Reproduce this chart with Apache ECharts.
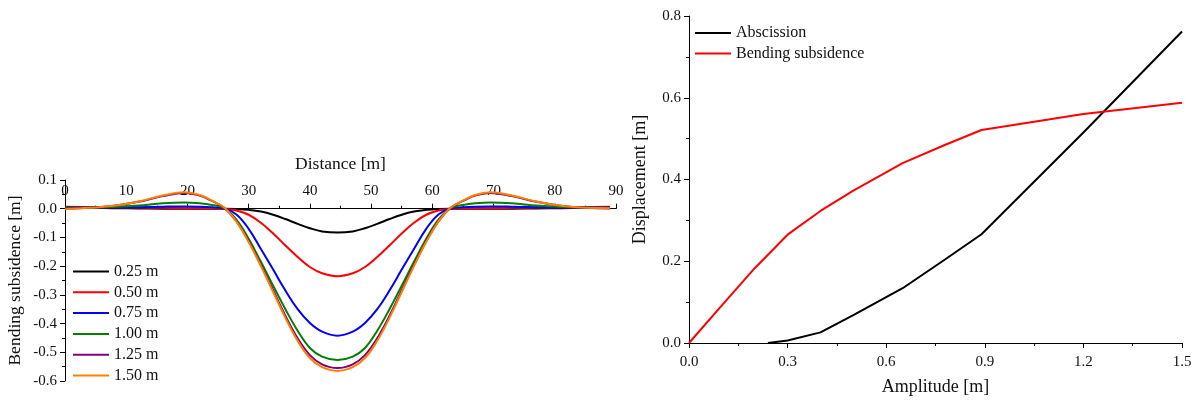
<!DOCTYPE html>
<html>
<head>
<meta charset="utf-8">
<script src="https://cdn.jsdelivr.net/npm/echarts@6/dist/echarts.min.js"></script>
<style>
html,body{margin:0;padding:0;background:#fff;}
#c{width:1200px;height:401px;}
</style>
</head>
<body>
<div id="c"></div>
<script>
// ---- Left chart: bending subsidence profiles ----
var distance = [0,4,8,12,16,19.5,22,24,26,28,30,32,34,36,38,40,42,44.5,47,49,51,53,55,57,59,61,63,65,67,69.5,73,77,81,85,89];
var amp025 = [0.004,0.003,0.002,0.001,0.000,0.000,0.000,0.000,0.000,-0.001,-0.004,-0.010,-0.021,-0.036,-0.053,-0.068,-0.079,-0.083,-0.079,-0.068,-0.053,-0.036,-0.021,-0.010,-0.004,-0.001,0.000,0.000,0.000,0.000,0.000,0.001,0.002,0.003,0.004];
var amp050 = [0.007,0.006,0.005,0.004,0.003,0.002,0.002,0.001,0.000,-0.006,-0.021,-0.049,-0.086,-0.128,-0.168,-0.203,-0.225,-0.235,-0.225,-0.203,-0.168,-0.128,-0.086,-0.049,-0.021,-0.006,0.000,0.001,0.002,0.002,0.003,0.004,0.005,0.006,0.007];
var amp075 = [0.004,0.004,0.004,0.005,0.007,0.008,0.007,0.005,0.001,-0.020,-0.070,-0.140,-0.212,-0.285,-0.350,-0.398,-0.428,-0.442,-0.428,-0.398,-0.350,-0.285,-0.212,-0.140,-0.070,-0.020,0.001,0.005,0.007,0.008,0.007,0.005,0.004,0.004,0.004];
var amp100 = [0.003,0.004,0.006,0.011,0.019,0.022,0.019,0.013,0.002,-0.038,-0.105,-0.185,-0.268,-0.350,-0.425,-0.485,-0.515,-0.527,-0.515,-0.485,-0.425,-0.350,-0.268,-0.185,-0.105,-0.038,0.002,0.013,0.019,0.022,0.019,0.011,0.006,0.004,0.003];
var amp125 = [0.000,0.003,0.010,0.024,0.044,0.055,0.046,0.027,0.003,-0.044,-0.113,-0.196,-0.284,-0.373,-0.451,-0.510,-0.542,-0.555,-0.542,-0.510,-0.451,-0.373,-0.284,-0.196,-0.113,-0.044,0.003,0.027,0.046,0.055,0.044,0.024,0.010,0.003,0.001];
var amp150 = [-0.002,0.003,0.010,0.025,0.046,0.057,0.048,0.028,0.004,-0.045,-0.116,-0.200,-0.290,-0.380,-0.460,-0.520,-0.552,-0.565,-0.552,-0.520,-0.460,-0.380,-0.290,-0.200,-0.116,-0.045,0.004,0.028,0.048,0.057,0.046,0.025,0.010,0.003,0.002];
var leftNames = ['0.25 m','0.50 m','0.75 m','1.00 m','1.25 m','1.50 m'];
var leftColors = ['#000000','#ff0000','#0000ff','#008000','#800080','#ff8000'];
var leftSeries = [amp025, amp050, amp075, amp100, amp125, amp150];

// ---- Right chart: displacement vs amplitude ----
var abscissionX = [0.24,0.3,0.4,0.5,0.65,0.78,0.89,1.2,1.5];
var abscissionY = [0.0,0.006,0.026,0.068,0.134,0.205,0.266,0.515,0.762];
var bendingX = [0.0,0.1,0.2,0.3,0.4,0.5,0.65,0.78,0.89,1.2,1.5];
var bendingY = [0.0,0.092,0.183,0.265,0.323,0.373,0.44,0.485,0.521,0.56,0.588];

function pairs(xs, ys){ return xs.map(function(x,i){ return [x, ys[i]]; }); }

var FONT = 'Liberation Serif';

var series = [];
leftSeries.forEach(function(vals, i){
  series.push({
    name: leftNames[i], type: 'line', xAxisIndex: 0, yAxisIndex: 0,
    data: pairs(distance, vals), smooth: 0.4, symbol: 'none',
    lineStyle: {color: leftColors[i], width: 2}, itemStyle: {color: leftColors[i]},
    z: 2 + i
  });
});
series.push({
  name: 'Abscission', type: 'line', xAxisIndex: 1, yAxisIndex: 1,
  data: pairs(abscissionX, abscissionY), symbol: 'none',
  lineStyle: {color: '#000', width: 2}, itemStyle: {color: '#000'}
});
series.push({
  name: 'Bending subsidence', type: 'line', xAxisIndex: 1, yAxisIndex: 1,
  data: pairs(bendingX, bendingY), symbol: 'none',
  lineStyle: {color: '#ff0000', width: 2}, itemStyle: {color: '#ff0000'}
});

var axisLine = {show: true, onZero: false, lineStyle: {color: '#000', width: 1}};

var option = {
  animation: false,
  backgroundColor: '#fff',
  grid: [
    {left: 65, top: 180, width: 551, height: 201, containLabel: false},
    {left: 689, top: 16, width: 493, height: 329, containLabel: false}
  ],
  legend: [
    {
      data: leftNames, orient: 'vertical', left: 72, top: 263.5, padding: 0,
      itemWidth: 36, itemHeight: 14, itemGap: 4.8,
      textStyle: {fontFamily: FONT, fontSize: 16, color: '#111'},
      itemStyle: {opacity: 0}, lineStyle: {width: 2}
    },
    {
      data: ['Abscission','Bending subsidence'], orient: 'vertical', left: 694, top: 25, padding: 0,
      itemWidth: 36, itemHeight: 14, itemGap: 4.5,
      textStyle: {fontFamily: FONT, fontSize: 16, color: '#111'},
      itemStyle: {opacity: 0}, lineStyle: {width: 2}
    }
  ],
  xAxis: [
    {
      gridIndex: 0, type: 'value', min: 0, max: 90, interval: 10, position: 'top', offset: -28.7,
      name: 'Distance [m]', nameLocation: 'middle', nameGap: 35,
      nameTextStyle: {fontFamily: FONT, fontSize: 17.5, color: '#111'},
      axisLine: axisLine,
      axisTick: {show: true, length: 5, lineStyle: {color: '#000'}},
      minorTick: {show: true, splitNumber: 2, length: 3, lineStyle: {color: '#000'}},
      axisLabel: {fontFamily: FONT, fontSize: 15, color: '#111', margin: 10},
      splitLine: {show: false}
    },
    {
      gridIndex: 1, type: 'value', min: 0, max: 1.5, interval: 0.3,
      name: 'Amplitude [m]', nameLocation: 'middle', nameGap: 35,
      nameTextStyle: {fontFamily: FONT, fontSize: 18, color: '#111'},
      axisLine: axisLine,
      axisTick: {show: true, length: 5, lineStyle: {color: '#000'}},
      minorTick: {show: true, splitNumber: 2, length: 3, lineStyle: {color: '#000'}},
      axisLabel: {fontFamily: FONT, fontSize: 15, color: '#111', margin: 12,
        formatter: function(v){ return v.toFixed(1); }},
      splitLine: {show: false}
    }
  ],
  yAxis: [
    {
      gridIndex: 0, type: 'value', min: -0.6, max: 0.1, interval: 0.1,
      name: 'Bending subsidence [m]', nameLocation: 'middle', nameGap: 41,
      nameTextStyle: {fontFamily: FONT, fontSize: 17.5, color: '#111'},
      axisLine: axisLine,
      axisTick: {show: true, length: 5, lineStyle: {color: '#000'}},
      minorTick: {show: true, splitNumber: 2, length: 3, lineStyle: {color: '#000'}},
      axisLabel: {fontFamily: FONT, fontSize: 15, color: '#111', margin: 8,
        formatter: function(v){ return v.toFixed(1); }},
      splitLine: {show: false}
    },
    {
      gridIndex: 1, type: 'value', min: 0, max: 0.8, interval: 0.2,
      name: 'Displacement [m]', nameLocation: 'middle', nameGap: 40,
      nameTextStyle: {fontFamily: FONT, fontSize: 18, color: '#111'},
      axisLine: axisLine,
      axisTick: {show: true, length: 5, lineStyle: {color: '#000'}},
      minorTick: {show: true, splitNumber: 2, length: 3, lineStyle: {color: '#000'}},
      axisLabel: {fontFamily: FONT, fontSize: 15, color: '#111', margin: 8,
        formatter: function(v){ return v.toFixed(1); }},
      splitLine: {show: false}
    }
  ],
  series: series
};

var chart = echarts.init(document.getElementById('c'), null, {renderer: 'canvas'});
chart.setOption(option);
</script>
</body>
</html>
